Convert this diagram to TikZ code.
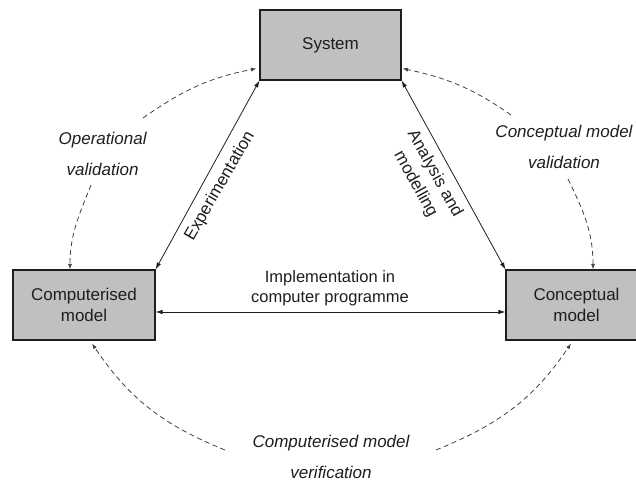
\documentclass[tikz,border=0pt]{standalone}
\usepackage{fontspec}
\setmainfont{Liberation Sans}
\usetikzlibrary{arrows.meta}
\definecolor{boxfill}{HTML}{C0C0C0}
\definecolor{ink}{HTML}{1E1E1E}
\begin{document}
\begin{tikzpicture}[x=1pt,y=1pt,
  box/.style={draw=ink, line width=1.1pt, fill=boxfill, minimum width=141pt, minimum height=70pt,
    inner sep=0pt, align=center, font=\fontsize{17}{21}\selectfont, text=ink},
  lab/.style={font=\fontsize{17}{21}\selectfont, text=ink, align=center, inner sep=0pt},
  ilab/.style={font=\fontsize{17}{31}\selectfont\itshape, text=ink, align=center, inner sep=0pt},
  link/.style={draw=ink, line width=0.8pt, {Latex[length=7pt,width=4.5pt]}-{Latex[length=7pt,width=4.5pt]}},
  dlink/.style={draw=ink!85, line width=0.8pt, dash pattern=on 5pt off 3.5pt, -{Latex[length=5.5pt,width=4pt]}},
]
\useasboundingbox (0,0) rectangle (636,481);

% boxes
\node[box] (sys)  at (330.5,436) {System};
\node[box, minimum width=142pt] (comp) at (84,176) {Computerised\\model};
\node[box] (conc) at (576.5,176) {Conceptual\\model};

% solid connectors
\draw[link] (sys.south west) -- (comp.north east);
\draw[link] (sys.south east) -- (conc.north west);
\draw[link] ([yshift=-7pt]comp.east) -- ([yshift=-7pt]conc.west);

% connector labels
\node[lab, rotate=60] (exp) at (220,295) {Experimentation};
\node[lab, rotate=-61, font=\fontsize{17}{22}\selectfont] (ana) at (425,302) {Analysis and\\modelling};
\node[lab, font=\fontsize{16.5}{20}\selectfont] (impl) at (330,193) {Implementation in\\computer programme};

% italic validation labels
\node[ilab] (opval) at (102.6,327.5) {Operational\\validation};
\node[ilab] (cmval) at (564,334.5) {Conceptual model\\validation};
\node[ilab] (cver) at (331,24.5) {Computerised model\\verification};

% free ends of dashed arcs
\coordinate (ulS) at (143,363);
\coordinate (llS) at (91,296);
\coordinate (urS) at (511,366);
\coordinate (lrS) at (568,302);
\coordinate (blS) at (225,31);
\coordinate (brS) at (436,31);

% dashed arcs
\draw[dlink] (ulS) to[out=35,in=-169] ([xshift=-3pt,yshift=12pt]sys.south west);
\draw[dlink] (llS) to[out=-112,in=90] ([xshift=-14pt]comp.north);
\draw[dlink] (urS) to[out=145,in=-12] ([xshift=1pt,yshift=12pt]sys.south east);
\draw[dlink] (lrS) to[out=-64,in=90] ([xshift=16.5pt]conc.north);
\draw[dlink] (blS) to[out=158,in=-56] ([xshift=8pt,yshift=-3pt]comp.south);
\draw[dlink] (brS) to[out=22,in=-124] ([xshift=-5.5pt,yshift=-3pt]conc.south);
\end{tikzpicture}
\end{document}
